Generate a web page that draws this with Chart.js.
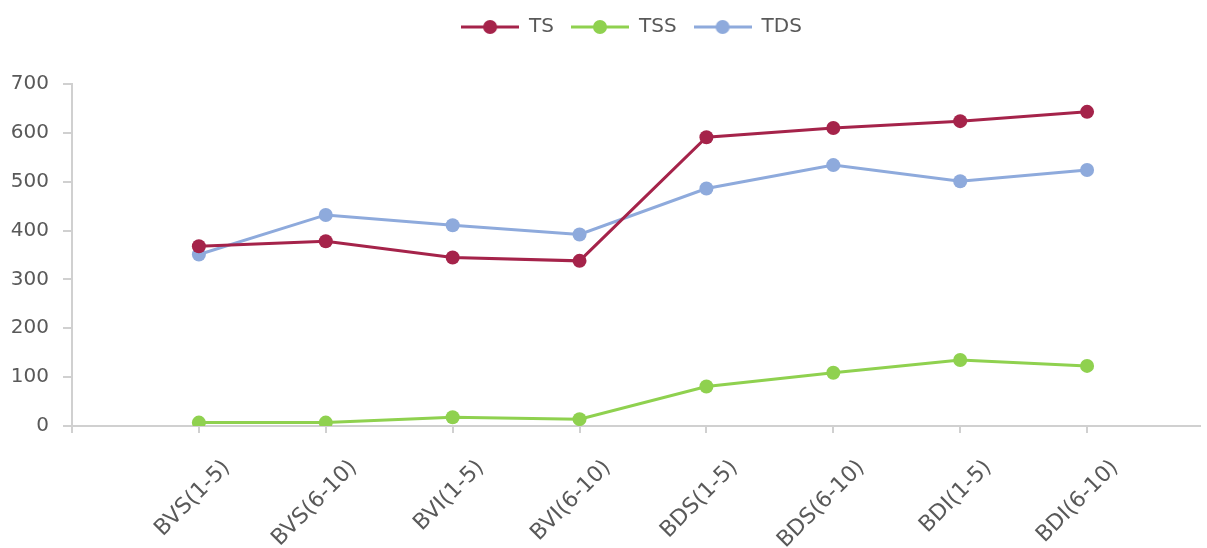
<!DOCTYPE html>
<html>
<head>
<meta charset="utf-8">
<script src="https://cdn.jsdelivr.net/npm/chart.js@4/dist/chart.umd.min.js"></script>
<style>
  html, body { margin: 0; padding: 0; background: #fff; }
  #wrap { width: 1207px; height: 548px; position: relative; }
</style>
</head>
<body>
<div id="wrap"><canvas id="chart"></canvas></div>
<script>
// categories and series
const CATEGORIES = ["BVS(1-5)", "BVS(6-10)", "BVI(1-5)", "BVI(6-10)",
                    "BDS(1-5)", "BDS(6-10)", "BDI(1-5)", "BDI(6-10)"];
const TS  = [368, 378, 345, 338, 591, 610, 624, 643];
const TSS = [7, 7, 18, 14, 81, 109, 135, 123];
const TDS = [351, 432, 411, 392, 486, 534, 501, 524];
const Y_TICKS = [0, 100, 200, 300, 400, 500, 600, 700];

const COLORS = { TS: "#a5234a", TSS: "#8fd14f", TDS: "#8eaadc" };
const AXIS = "#d0d0d0";
const TEXT = "#595959";
const FONT = "'DejaVu Sans', sans-serif";

function toPoints(arr) {
  return arr.map((v, i) => ({ x: i + 1, y: v }));
}

// legend marker: short line with a dot in the middle
function legendMarker(color) {
  const c = document.createElement("canvas");
  c.width = 58; c.height = 16;
  const g = c.getContext("2d");
  g.strokeStyle = color; g.lineWidth = 3;
  g.beginPath(); g.moveTo(0, 8); g.lineTo(58, 8); g.stroke();
  g.fillStyle = color;
  g.beginPath(); g.arc(29, 8, 7, 0, Math.PI * 2); g.fill();
  return c;
}

function series(label, values) {
  return {
    label,
    data: toPoints(values),
    borderColor: COLORS[label],
    backgroundColor: COLORS[label],
    borderWidth: 3,
    pointRadius: 7,
    pointHoverRadius: 7,
    pointBorderWidth: 0,
    tension: 0,
    marker: legendMarker(COLORS[label]),
  };
}

// legend box: fixed height so the plot starts at the 700 line, nudged right
const legendFix = {
  id: "legendFix",
  afterInit(chart) {
    const lg = chart.legend;
    const fit = lg.fit;
    lg.fit = function () { fit.call(this); this.height = 84; };
  },
  afterLayout(chart) {
    chart.legend.left += 29;
    chart.legend.right += 29;
  }
};

new Chart(document.getElementById("chart"), {
  type: "line",
  data: {
    datasets: [series("TS", TS), series("TSS", TSS), series("TDS", TDS)]
  },
  plugins: [legendFix],
  options: {
    responsive: true,
    maintainAspectRatio: false,
    animation: false,
    layout: { padding: { top: 0, right: 2, left: 0, bottom: 0 } },
    plugins: {
      tooltip: { enabled: false },
      legend: {
        position: "top",
        labels: {
          usePointStyle: true,
          pointStyleWidth: 58,
          boxHeight: 20,
          padding: 17,
          color: TEXT,
          font: { family: FONT, size: 20 },
          generateLabels(chart) {
            return chart.data.datasets.map((ds, i) => ({
              text: ds.label,
              fillStyle: ds.borderColor,
              strokeStyle: ds.borderColor,
              lineWidth: 0,
              pointStyle: ds.marker,
              fontColor: TEXT,
              hidden: false,
              datasetIndex: i,
            }));
          }
        }
      }
    },
    scales: {
      x: {
        type: "linear",
        min: 0,
        max: 8.89,
        afterFit(scale) { scale.height = 122; },
        afterBuildTicks(scale) {
          scale.ticks = [{ value: 0 }].concat(CATEGORIES.map((c, i) => ({ value: i + 1 })));
        },
        grid: { drawOnChartArea: false, drawTicks: true, tickLength: 7, color: AXIS, lineWidth: 2 },
        border: { color: AXIS, width: 2 },
        ticks: {
          autoSkip: false,
          minRotation: 45,
          maxRotation: 45,
          labelOffset: 28,
          padding: 22,
          color: TEXT,
          font: { family: FONT, size: 22 },
          callback: v => CATEGORIES[v - 1] || ""
        }
      },
      y: {
        min: 0,
        max: 700,
        afterFit(scale) { scale.width = 72; },
        afterBuildTicks(scale) { scale.ticks = Y_TICKS.map(v => ({ value: v })); },
        grid: { drawOnChartArea: false, drawTicks: true, tickLength: 9, color: AXIS, lineWidth: 2 },
        border: { color: AXIS, width: 2 },
        ticks: {
          padding: 14,
          color: TEXT,
          font: { family: FONT, size: 20 }
        }
      }
    }
  }
});
</script>
</body>
</html>
